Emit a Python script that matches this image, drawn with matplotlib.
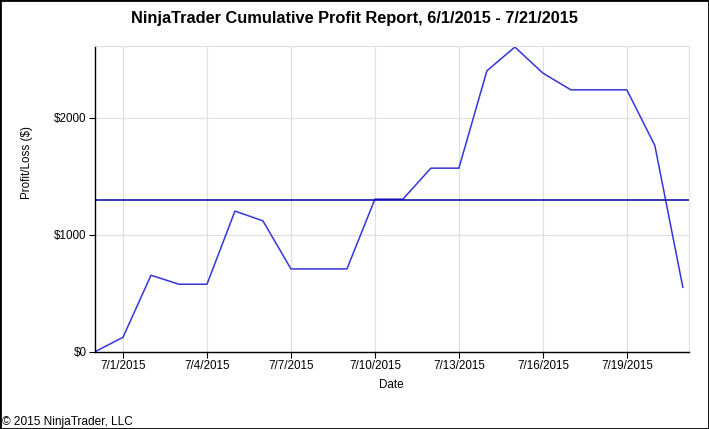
import matplotlib
matplotlib.use("Agg")
import matplotlib.pyplot as plt
import matplotlib.dates as mdates
from matplotlib.patches import Rectangle
from matplotlib.ticker import FuncFormatter
import datetime as dt

# cumulative profit per day
dates = [dt.date(2015, 6, 30) + dt.timedelta(days=i) for i in range(22)]
profit = [0, 123, 654, 577, 577, 1203, 1119, 708, 708, 708, 1305,
          1305, 1570, 1570, 2403, 2606, 2383, 2240, 2240, 2240, 1764, 551]
avg_line = 1296
tick_dates = [dt.date(2015, 7, d) for d in (1, 4, 7, 10, 13, 16, 19)]
y_ticks = [0, 1000, 2000]

plt.rcParams['font.family'] = ['Liberation Sans', 'DejaVu Sans']

fig = plt.figure(figsize=(7.09, 4.29), dpi=100)
ax = fig.add_axes([95/709, 1 - 351.7/429, (689-95)/709, (351.7-46)/429])

ax.plot(dates, profit, color='#3535d8', linewidth=1.1)
ax.axhline(avg_line, color='#0000a8', linewidth=1.1)

ax.set_xlim(mdates.date2num(dates[0]), mdates.date2num(dates[-1]) + 0.22)
ax.set_ylim(0, 2615)

ax.set_xticks([mdates.date2num(d) for d in tick_dates])
ax.xaxis.set_major_formatter(FuncFormatter(
    lambda v, p: "%d/%d/%d" % (mdates.num2date(v).month, mdates.num2date(v).day, mdates.num2date(v).year)))
ax.set_yticks(y_ticks)
ax.yaxis.set_major_formatter(FuncFormatter(lambda v, p: "$%d" % v))

ax.grid(True, color='#e0e0e0', linewidth=0.9)
ax.set_axisbelow(True)
for s in ('top', 'right'):
    ax.spines[s].set_color('#e0e0e0')
for s in ('left', 'bottom'):
    ax.spines[s].set_color('black')
    ax.spines[s].set_linewidth(1.0)
ax.tick_params(axis='both', length=4, width=0.8, labelsize=8.4, colors='black', pad=2)

fig.text(0.5, 1 - 18/429, "NinjaTrader Cumulative Profit Report, 6/1/2015 - 7/21/2015",
         ha='center', va='center', fontsize=11.8, fontweight='bold')
fig.text(391/709, 1 - 385/429, "Date", ha='center', va='center', fontsize=8.4)
fig.text(27/709, 1 - 163/429, "Profit/Loss ($)", ha='center', va='center',
         rotation=90, fontsize=8.4)
fig.text(2/709, 1 - 422/429, "\u00a9 2015 NinjaTrader, LLC", ha='left', va='center', fontsize=8.6)

fig.add_artist(Rectangle((0, 0), 1, 1, transform=fig.transFigure, fill=False,
                         edgecolor='black', linewidth=2, clip_on=False))

fig.savefig("out.png", dpi=100)
